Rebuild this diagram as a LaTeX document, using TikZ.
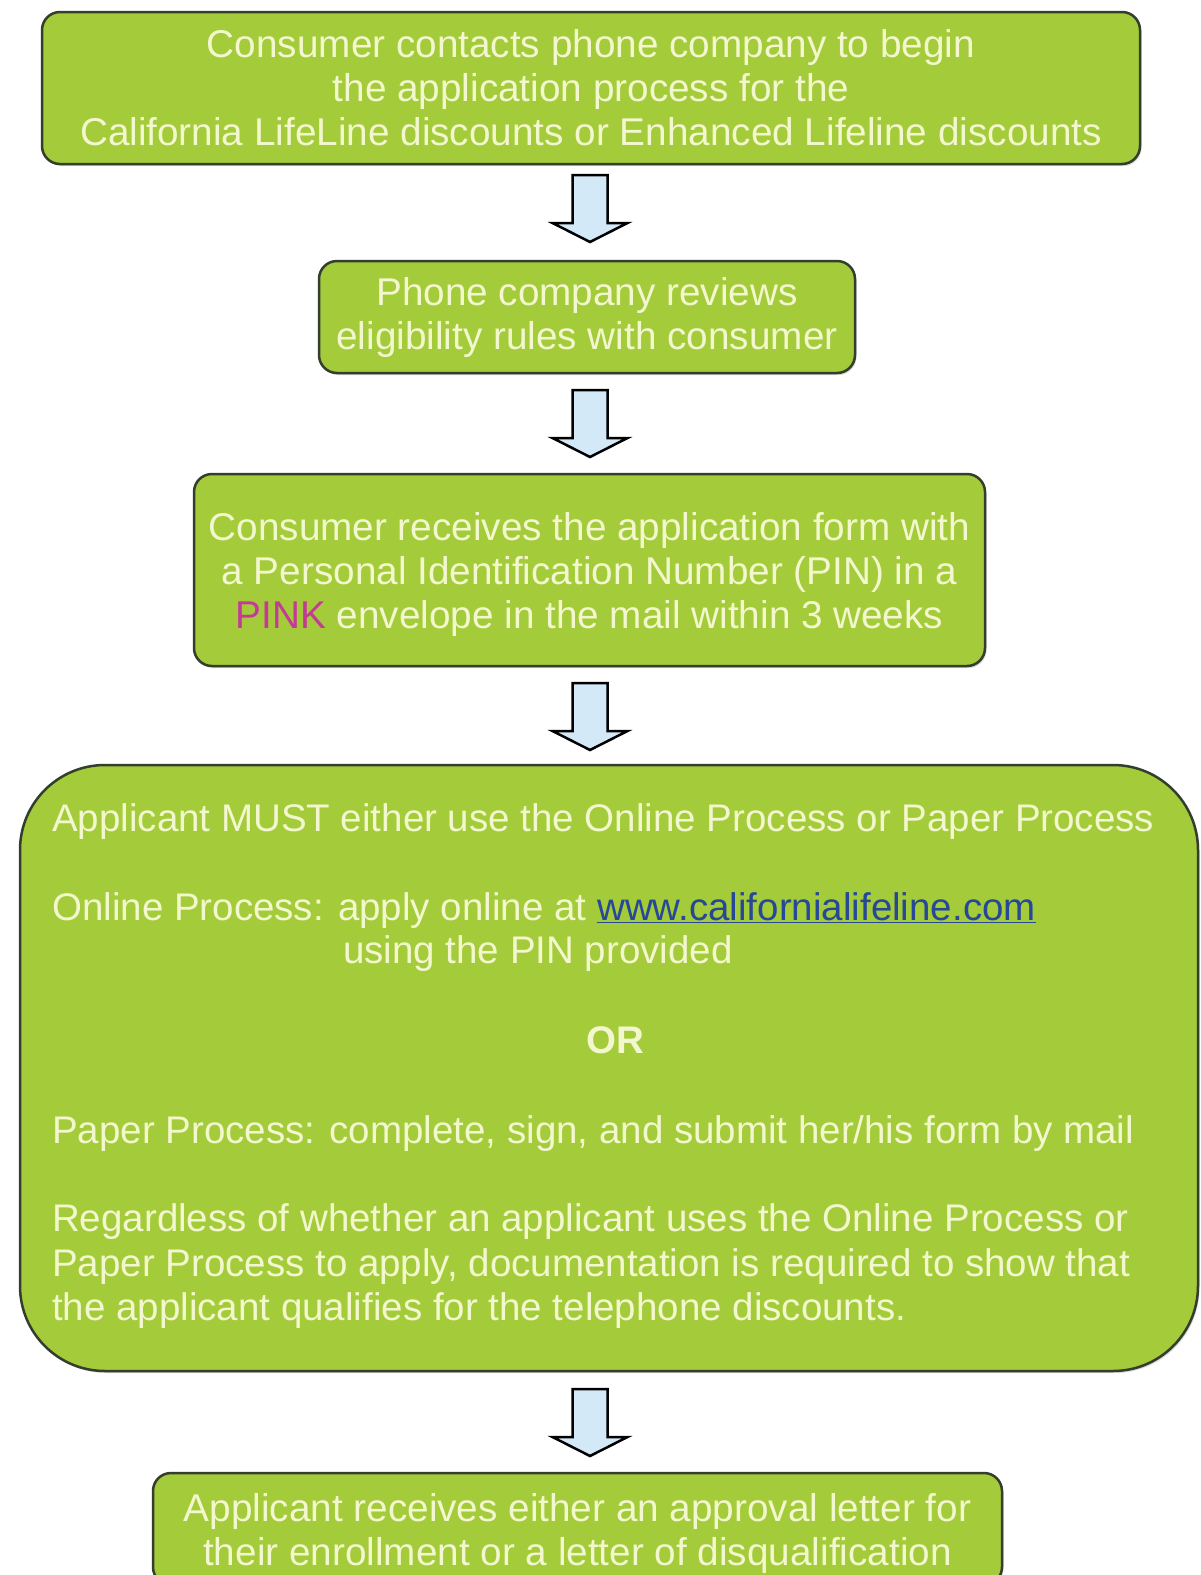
\documentclass[tikz,border=0pt]{standalone}
\usepackage{fontspec}
\setmainfont{Liberation Sans}
\usetikzlibrary{shadows}
\definecolor{boxgreen}{RGB}{164,203,58}
\definecolor{boxline}{RGB}{52,62,44}
\definecolor{txt}{RGB}{243,247,206}
\definecolor{pinktxt}{RGB}{196,58,150}
\definecolor{urlblue}{RGB}{38,72,150}
\definecolor{arrowfill}{RGB}{212,233,247}
\tikzset{
  greenbox/.style={draw=boxline, line width=2.5pt, fill=boxgreen,
    rounded corners=18pt, text=txt, align=center, inner sep=0pt,
    font=\fontsize{38.7}{44}\selectfont,
    drop shadow={opacity=0.3, shadow xshift=1.5pt, shadow yshift=-2pt}},
  linetxt/.style={text=txt, inner sep=0pt, font=\fontsize{38.5}{44}\selectfont},
  barrow/.style={draw=black, line width=2.5pt, fill=arrowfill, line join=miter},
  downarr/.pic={\draw[barrow] (-17.5,0) -- (17.5,0) -- (17.5,48) -- (37.5,48)
     -- (0,67) -- (-37.5,48) -- (-17.5,48) -- cycle;}
}
\begin{document}
\begin{tikzpicture}[x=1pt,y=-1pt]
\fill[white] (0,0) rectangle (1200,1575);
\useasboundingbox (0,0) rectangle (1200,1575);

\node[greenbox, minimum width=1098pt, minimum height=152pt] (b1) at (591,88)
  {Consumer contacts phone company to begin\\the application process for the\\California LifeLine discounts or Enhanced Lifeline discounts};

\node[greenbox, minimum width=536pt, minimum height=112pt] (b2) at (587,317)
  {Phone company reviews\\eligibility rules with consumer};

\node[greenbox, minimum width=791pt, minimum height=192pt, text depth=0pt] (b3) at (589.5,570)
  {Consumer receives the application form with\\a Personal Identification Number (PIN) in a\\{\color{pinktxt}PINK} envelope in the mail within 3 weeks};

\node[greenbox, rounded corners=85pt, minimum width=1178pt, minimum height=606pt] (b4) at (609,1068) {};

\node[linetxt, anchor=base west] (l1) at (52,831.5) {Applicant MUST either use the Online Process or Paper Process};
\node[linetxt, anchor=base west] (l2) at (52,920.5) {Online Process: apply online at {\color{urlblue}\underline{www.californialifeline.com}}};
\node[linetxt, anchor=base west] (l3) at (343,963.5) {using the PIN provided};
\node[linetxt, anchor=base, font=\fontsize{38.5}{44}\selectfont\bfseries] (l4) at (615,1053.5) {OR};
\node[linetxt, anchor=base west] (l5) at (52,1143.5) {Paper Process: complete, sign, and submit her/his form by mail};
\node[linetxt, anchor=base west] (l6) at (52,1231.5) {Regardless of whether an applicant uses the Online Process or};
\node[linetxt, anchor=base west] (l7) at (52,1276.5) {Paper Process to apply, documentation is required to show that};
\node[linetxt, anchor=base west] (l8) at (52,1320.5) {the applicant qualifies for the telephone discounts.};

\node[greenbox, minimum width=849pt, minimum height=112pt, text depth=0pt] (b5) at (577.5,1529)
  {Applicant receives either an approval letter for\\their enrollment or a letter of disqualification};

\coordinate (a1) at (590,175);
\coordinate (a2) at (590,390);
\coordinate (a3) at (590,683);
\coordinate (a4) at (590,1389);
\pic at (a1) {downarr};
\pic at (a2) {downarr};
\pic at (a3) {downarr};
\pic at (a4) {downarr};
\end{tikzpicture}
\end{document}
